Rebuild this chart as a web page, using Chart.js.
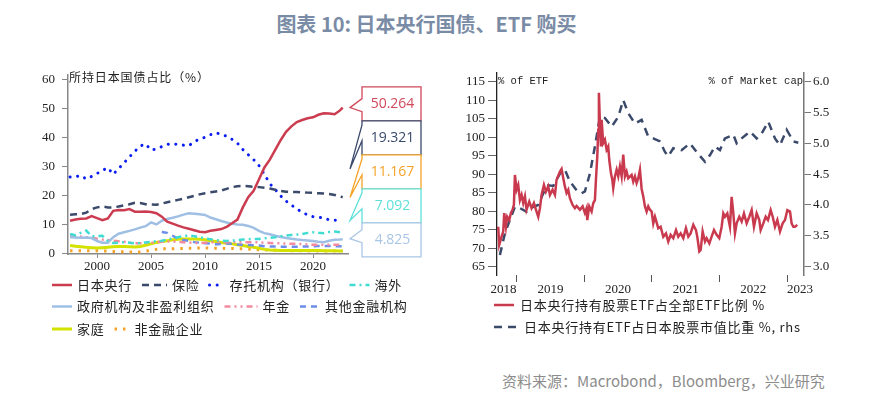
<!DOCTYPE html>
<html lang="zh">
<head>
<meta charset="UTF-8">
<title>图表 10: 日本央行国债、ETF 购买</title>
<script src="https://cdn.jsdelivr.net/npm/chart.js"></script>
<style>
  body { margin: 0; background: #fff; width: 880px; height: 397px; position: relative; overflow: hidden; font-family: "Noto Sans CJK SC", sans-serif; }
  .title { position: absolute; top: 14px; left: 0; width: 853px; text-align: center; font-size: 20px; line-height: 20px; font-weight: bold; color: #7a8ca5; }
  .source { position: absolute; left: 502px; top: 373px; font-size: 15px; line-height: 15px; color: #8c8c8c; }
  #leftChart { position: absolute; left: 0; top: 60px; }
  #rightChart { position: absolute; left: 440px; top: 60px; }
</style>
</head>
<body>
<div class="title">图表 10: 日本央行国债、ETF 购买</div>
<canvas id="leftChart" width="440" height="290"></canvas>
<canvas id="rightChart" width="440" height="290"></canvas>
<div class="source">资料来源：Macrobond，Bloomberg，兴业研究</div>

<script>
// ---- left chart: holders of JGBs, % share ----
const yearsLeft = [
  1997.5, 1998, 1998.5, 1999, 1999.5, 2000, 2000.5, 2001, 2001.5, 2002,
  2002.5, 2003, 2003.5, 2004, 2004.5, 2005, 2005.5, 2006, 2006.5, 2007,
  2007.5, 2008, 2008.5, 2009, 2009.5, 2010, 2010.5, 2011, 2011.5, 2012,
  2012.5, 2013, 2013.5, 2014, 2014.5, 2015, 2015.5, 2016, 2016.5, 2017,
  2017.5, 2018, 2018.5, 2019, 2019.5, 2020, 2020.5, 2021, 2021.5, 2022,
  2022.5, 2022.75
];
const boj = [
  11.2, 11.6, 11.9, 12.0, 12.8, 12.1, 11.4, 12.0, 14.6, 14.9,
  14.8, 15.2, 14.3, 14.3, 14.4, 14.2, 13.8, 12.6, 10.9, 10.2,
  9.5, 8.9, 8.4, 7.9, 7.4, 7.2, 7.7, 8.0, 8.3, 9.1,
  10.3, 11.6, 15.8, 19.3, 21.5, 25.5, 29.6, 32.3, 35.7, 39.0,
  41.9, 43.8, 45.3, 46.0, 46.6, 46.9, 47.8, 48.3, 48.2, 48.0,
  49.3, 50.264
];
const insurance = [
  13.3, 13.4, 13.5, 14.0, 15.2, 15.8, 16.1, 15.8, 15.8, 16.1,
  16.5, 16.9, 17.4, 17.3, 16.9, 16.8, 16.7, 17.1, 17.6, 18.0,
  18.4, 18.8, 19.3, 19.8, 20.3, 20.7, 21.0, 21.3, 21.6, 22.2,
  22.8, 23.1, 23.2, 23.1, 22.9, 22.8, 22.6, 22.3, 21.9, 21.5,
  21.2, 21.1, 21.1, 21.0, 20.9, 20.8, 20.7, 20.6, 20.4, 20.1,
  19.6, 19.321
];
const banks = [
  26.3, 26.4, 26.8, 25.6, 26.5, 27.5, 28.6, 29.5, 27.2, 29.2,
  31.2, 33.2, 35.2, 37.0, 37.7, 35.6, 36.0, 36.8, 37.6, 37.7,
  37.6, 37.3, 37.1, 38.5, 39.4, 40.0, 40.9, 41.6, 41.0, 40.4,
  39.3, 38.0, 35.8, 34.0, 32.3, 30.2, 27.2, 24.0, 22.0, 19.8,
  18.0, 16.6, 15.3, 14.1, 13.2, 12.6, 12.4, 12.1, 11.5, 11.4,
  11.3, 11.167
];
const overseas = [
  6.6, 6.2, 7.0, 7.8, 5.8, 5.9, 6.0, 4.2, 3.5, 3.6,
  3.8, 3.6, 3.4, 3.5, 3.7, 3.9, 4.1, 4.3, 4.7, 5.1,
  5.5, 5.9, 6.1, 5.8, 5.5, 5.1, 4.8, 4.5, 4.3, 4.2,
  4.3, 4.5, 4.7, 4.8, 4.9, 4.9, 5.1, 5.3, 5.5, 5.8,
  6.1, 6.3, 6.4, 6.6, 7.0, 7.2, 7.0, 6.9, 7.3, 7.5,
  7.2, 7.092
];
const govt = [
  5.5, 5.4, 5.3, 5.4, 5.2, 4.2, 3.6, 3.6, 5.5, 6.7,
  7.2, 7.7, 8.2, 8.8, 9.3, 10.6, 9.9, 11.2, 11.8, 12.2,
  12.7, 13.3, 13.8, 13.6, 13.4, 13.2, 12.3, 11.7, 11.1, 10.6,
  10.1, 9.9, 9.8, 9.4, 8.7, 7.7, 6.9, 6.5, 6.0, 5.6,
  5.2, 5.0, 4.7, 4.5, 4.4, 4.2, 3.9, 3.8, 4.3, 4.6,
  4.7, 4.825
];
const pension = [
  6.1, 5.9, 5.7, 5.5, 5.3, 5.0, 4.7, 4.5, 4.3, 4.1,
  3.9, 3.6, 3.4, 3.4, 3.5, 3.6, 3.8, 3.9, 4.0, 4.0,
  3.9, 3.8, 3.7, 3.5, 3.5, 3.6, 3.7, 3.8, 3.8, 3.8,
  3.8, 3.8, 3.8, 3.8, 3.8, 3.7, 3.6, 3.5, 3.4, 3.4,
  3.3, 3.2, 3.2, 3.1, 3.0, 2.9, 2.9, 2.9, 2.9, 2.9,
  2.9, 2.9
];
const otherFin = [
  null, null, null, null, null, null, null, null, null, null,
  null, null, null, null, null, null, null, 7.3, 7.0, 6.0,
  5.0, 4.5, 4.2, 3.8, 3.6, 3.4, 3.3, 3.1, 3.2, 3.3,
  3.2, 3.0, 2.9, 2.8, 2.7, 2.6, 2.4, 2.3, 2.3, 2.2,
  2.2, 2.2, 2.2, 2.3, 2.3, 2.4, 2.5, 2.5, 2.5, 2.4,
  2.4, 2.4
];
const households = [
  2.6, 2.4, 2.2, 2.0, 1.9, 1.8, 1.9, 2.0, 2.2, 2.3,
  2.3, 2.2, 2.1, 2.3, 2.7, 3.2, 3.7, 4.0, 4.3, 4.6,
  4.8, 4.9, 4.9, 4.9, 4.8, 4.6, 4.3, 4.0, 3.7, 3.4,
  3.2, 2.9, 2.6, 2.3, 2.0, 1.7, 1.3, 1.1, 1.0, 0.9,
  0.9, 0.9, 0.9, 0.9, 0.9, 0.9, 0.9, 0.8, 0.8, 0.8,
  0.7, 0.7
];
const corporates = [
  0.8, 0.8, 0.8, 0.8, 0.8, 0.8, 0.8, 0.7, 0.6, 0.5,
  0.5, 0.4, 0.4, 0.4, 0.7, 1.0, 1.3, 1.5, 1.5, 1.5,
  1.6, 1.6, 1.7, 1.7, 1.8, 1.8, 1.7, 1.7, 1.7, 1.6,
  1.6, 1.5, 1.5, 1.4, 1.3, 1.2, 1.1, 1.0, 1.0, 0.9,
  0.9, 0.8, 0.8, 0.8, 0.8, 0.7, 0.7, 0.7, 0.7, 0.7,
  0.7, 0.7
];
const leftXTicks = [2000, 2005, 2010, 2015, 2020];
const leftYTicks = [0, 10, 20, 30, 40, 50, 60];
const calloutValues = ['50.264', '19.321', '11.167', '7.092', '4.825'];
const calloutTips = [50.264, 29.1, 19.2, 11.3, 5.0];
const calloutColors = ['#d0485a', '#3b4a6b', '#f5a328', '#5ee0d8', '#a9c6e6'];

// ---- right chart: BoJ ETF holdings ----
const etfYears = [
  2018.728, 2018.743, 2018.778, 2018.802, 2018.817, 2018.842, 2018.861, 2018.891, 2018.916, 2018.940,
  2018.960, 2018.975, 2019.000, 2019.024, 2019.049, 2019.074, 2019.098, 2019.123, 2019.147, 2019.187,
  2019.221, 2019.256, 2019.295, 2019.320, 2019.345, 2019.369, 2019.404, 2019.433, 2019.468, 2019.493,
  2019.532, 2019.567, 2019.591, 2019.641, 2019.665, 2019.690, 2019.714, 2019.739, 2019.764, 2019.788,
  2019.828, 2019.862, 2019.887, 2019.936, 2019.976, 2020.010, 2020.035, 2020.045, 2020.074, 2020.109,
  2020.134, 2020.158, 2020.173, 2020.193, 2020.208, 2020.217, 2020.232, 2020.247, 2020.257, 2020.281,
  2020.306, 2020.331, 2020.355, 2020.370, 2020.395, 2020.415, 2020.429, 2020.454, 2020.479, 2020.503,
  2020.528, 2020.553, 2020.577, 2020.602, 2020.627, 2020.651, 2020.701, 2020.725, 2020.750, 2020.775,
  2020.799, 2020.824, 2020.849, 2020.873, 2020.898, 2020.923, 2020.947, 2020.972, 2020.997, 2021.021,
  2021.046, 2021.095, 2021.130, 2021.169, 2021.209, 2021.243, 2021.278, 2021.317, 2021.357, 2021.391,
  2021.426, 2021.465, 2021.504, 2021.539, 2021.573, 2021.613, 2021.652, 2021.672, 2021.702, 2021.722,
  2021.751, 2021.786, 2021.810, 2021.850, 2021.884, 2021.919, 2021.958, 2021.997, 2022.032, 2022.057,
  2022.081, 2022.116, 2022.155, 2022.180, 2022.205, 2022.229, 2022.254, 2022.293, 2022.328, 2022.362,
  2022.402, 2022.441, 2022.476, 2022.510, 2022.550, 2022.589, 2022.609, 2022.648, 2022.683, 2022.717,
  2022.757, 2022.787, 2022.821, 2022.856, 2022.895, 2022.934, 2022.969, 2023.004, 2023.043, 2023.067,
  2023.092, 2023.117, 2023.151
];
const etfShare = [
  75.8, 70.9, 73.1, 74.5, 79.5, 75.8, 78.5, 77.6, 79.5, 80.4,
  81.7, 89.8, 85.8, 87.1, 83.0, 84.4, 82.2, 84.0, 80.4, 82.6,
  80.8, 82.2, 79.9, 78.5, 80.8, 84.4, 87.1, 85.3, 86.7, 84.4,
  85.8, 84.4, 88.5, 90.7, 91.4, 88.9, 86.7, 84.9, 85.8, 83.5,
  81.7, 80.8, 81.4, 80.4, 81.3, 79.5, 80.8, 77.6, 81.3, 79.9,
  82.2, 83.0, 88.5, 94.8, 102.0, 112.0, 103.8, 97.5, 104.7, 98.4,
  99.3, 96.6, 97.5, 93.9, 90.3, 88.5, 86.2, 89.4, 91.2, 89.4,
  92.1, 89.4, 95.3, 89.4, 90.7, 88.9, 89.8, 88.0, 89.4, 87.6,
  88.9, 91.2, 86.0, 84.0, 81.3, 79.9, 81.3, 80.4, 79.9, 76.7,
  78.5, 75.4, 75.8, 73.1, 74.0, 71.8, 73.6, 72.7, 74.9, 73.1,
  74.0, 72.7, 75.4, 73.1, 74.0, 76.3, 74.9, 73.1, 69.1, 69.5,
  74.5, 71.8, 72.7, 71.3, 73.1, 74.9, 73.6, 72.7, 75.8, 79.4,
  78.5, 79.4, 75.8, 83.9, 79.4, 74.0, 76.7, 78.5, 77.2, 79.4,
  76.7, 78.5, 80.3, 75.8, 79.4, 77.6, 74.9, 76.7, 78.5, 77.6,
  80.3, 78.5, 75.8, 77.6, 74.5, 76.7, 77.6, 80.3, 79.9, 76.7,
  75.8, 75.8, 76.3
];
const capYears = [
  2018.753, 2018.827, 2018.901, 2018.975, 2019.049, 2019.147, 2019.246, 2019.320, 2019.394, 2019.468,
  2019.542, 2019.641, 2019.714, 2019.788, 2019.887, 2019.961, 2020.010, 2020.084, 2020.158, 2020.232,
  2020.306, 2020.405, 2020.503, 2020.577, 2020.651, 2020.750, 2020.849, 2020.947, 2021.021, 2021.120,
  2021.194, 2021.243, 2021.317, 2021.440, 2021.564, 2021.662, 2021.786, 2021.860, 2021.933, 2022.007,
  2022.081, 2022.205, 2022.254, 2022.328, 2022.451, 2022.550, 2022.624, 2022.722, 2022.821, 2022.895,
  2022.994, 2023.092, 2023.166
];
const capShare = [
  3.19, 3.54, 3.76, 3.97, 3.95, 3.89, 3.97, 4.00, 4.19, 4.32,
  4.31, 4.51, 4.57, 4.38, 4.24, 4.19, 4.22, 4.51, 4.95, 5.43,
  5.41, 5.27, 5.43, 5.70, 5.49, 5.32, 5.38, 5.11, 5.08, 5.03,
  4.86, 4.79, 4.92, 4.89, 5.00, 4.86, 4.70, 4.81, 4.95, 4.89,
  5.08, 5.14, 5.00, 5.08, 5.19, 5.08, 5.16, 5.35, 5.08, 4.97,
  5.22, 5.03, 5.01
];
const rightXTicks = [2019, 2020, 2021, 2022, 2023];
const rightYearLabels = [2018, 2019, 2020, 2021, 2022, 2023];
const rightYTicks = [65, 70, 75, 80, 85, 90, 95, 100, 105, 110, 115];
const rightY1Ticks = [3.0, 3.5, 4.0, 4.5, 5.0, 5.5, 6.0];

const tickFont = { family: 'Liberation Serif', size: 13 };
const legendFont = '13px "Noto Sans CJK SC"';

function pts(xs, ys) {
  return xs.map((x, i) => ({ x: x, y: ys[i] }));
}

function drawLegendRow(ctx, chart, items, x0, y) {
  let x = x0;
  items.forEach(([idx, len, gap]) => {
    const ds = chart.data.datasets[idx];
    ctx.save();
    ctx.strokeStyle = ds.borderColor;
    ctx.lineWidth = ds.borderWidth;
    ctx.lineCap = ds.borderCapStyle || 'butt';
    ctx.setLineDash(ds.borderDash || []);
    ctx.beginPath();
    ctx.moveTo(x, y);
    ctx.lineTo(x + len, y);
    ctx.stroke();
    ctx.restore();
    x += len + gap;
    ctx.fillText(ds.label, x, y);
    x += ctx.measureText(ds.label).width + 10;
  });
}

const leftExtras = {
  id: 'leftExtras',
  afterDraw(chart) {
    const { ctx, chartArea: a } = chart;
    const y = chart.scales.y;
    ctx.save();
    ctx.letterSpacing = '0.9px';
    ctx.font = '12px "Noto Sans CJK SC"';
    ctx.fillStyle = '#222';
    ctx.textBaseline = 'middle';
    ctx.fillText('所持日本国债占比（%）', a.left + 1, a.top + 3);

    // value callouts at the right edge
    ctx.letterSpacing = '0px';
    calloutValues.forEach((txt, i) => {
      const top = a.top + 12 + i * 34, bottom = top + 34, left = 362, right = 421;
      const tipX = a.right + 2, tipY = y.getPixelForValue(calloutTips[i]);
      let b1, b2;
      if (tipY > top + 4 && tipY < bottom - 4) { b1 = tipY - 9; b2 = tipY + 4; }
      else { b1 = top + 4; b2 = top + 20; }
      ctx.beginPath();
      ctx.moveTo(left, top); ctx.lineTo(right, top); ctx.lineTo(right, bottom); ctx.lineTo(left, bottom);
      ctx.lineTo(left, b2); ctx.lineTo(tipX, tipY); ctx.lineTo(left, b1); ctx.closePath();
      ctx.fillStyle = '#fff';
      ctx.fill();
      ctx.strokeStyle = calloutColors[i];
      ctx.lineWidth = 1.3;
      ctx.stroke();
      ctx.fillStyle = calloutColors[i];
      ctx.font = '14px "Open Sans"';
      ctx.textAlign = 'center';
      ctx.fillText(txt, (left + right) / 2 + 1, top + 17);
      ctx.textAlign = 'left';
    });

    // legend
    ctx.letterSpacing = '0.75px';
    ctx.font = legendFont;
    ctx.fillStyle = '#222';
    drawLegendRow(ctx, chart, [[0, 20, 5], [1, 25, 5], [2, 15, 5], [3, 20, 5]], 52, a.bottom + 31);
    drawLegendRow(ctx, chart, [[4, 20, 5], [5, 33, 5], [6, 20, 5]], 52, a.bottom + 52.5);
    drawLegendRow(ctx, chart, [[7, 20, 5], [8, 15, 5]], 52, a.bottom + 75);
    ctx.restore();
  }
};

new Chart(document.getElementById('leftChart'), {
  type: 'line',
  data: {
    datasets: [
      { label: '日本央行', data: pts(yearsLeft, boj), borderColor: '#cc3c50', borderWidth: 2.5 },
      { label: '保险', data: pts(yearsLeft, insurance), borderColor: '#3b4a6b', borderWidth: 2.5, borderDash: [7, 5] },
      { label: '存托机构（银行）', data: pts(yearsLeft, banks), borderColor: '#0a1ef0', borderWidth: 3, borderDash: [0.1, 7.5], borderCapStyle: 'round' },
      { label: '海外', data: pts(yearsLeft, overseas), borderColor: '#40dcd2', borderWidth: 2.5, borderDash: [6, 4, 2, 4] },
      { label: '政府机构及非盈利组织', data: pts(yearsLeft, govt), borderColor: '#9fc0e4', borderWidth: 2.5 },
      { label: '年金', data: pts(yearsLeft, pension), borderColor: '#f28aa0', borderWidth: 2.5, borderDash: [6, 4, 2, 4, 2, 4] },
      { label: '其他金融机构', data: pts(yearsLeft, otherFin), borderColor: '#6c8ee8', borderWidth: 2.5, borderDash: [6, 5] },
      { label: '家庭', data: pts(yearsLeft, households), borderColor: '#d4e200', borderWidth: 3 },
      { label: '非金融企业', data: pts(yearsLeft, corporates), borderColor: '#f5a328', borderWidth: 3, borderDash: [2.5, 6] }
    ]
  },
  options: {
    responsive: false,
    animation: false,
    layout: { padding: { left: 0, top: 13, right: 92, bottom: 0 } },
    elements: { point: { radius: 0 }, line: { tension: 0, fill: false } },
    plugins: { legend: { display: false }, tooltip: { enabled: false } },
    scales: {
      x: {
        type: 'linear', min: 1997.31, max: 2023.24,
        afterBuildTicks: s => { s.ticks = leftXTicks.map(v => ({ value: v })); },
        afterFit: s => { s.height = 96; },
        grid: { drawOnChartArea: false, drawTicks: true, tickLength: 4, tickColor: '#888' },
        border: { color: '#888', width: 1.5 },
        ticks: { font: tickFont, color: '#222', padding: 1, maxRotation: 0, autoSkip: false, callback: v => String(v) }
      },
      y: {
        min: -0.3, max: 61.6,
        afterBuildTicks: s => { s.ticks = leftYTicks.map(v => ({ value: v })); },
        afterFit: s => { s.width = 68; },
        grid: { drawOnChartArea: false, drawTicks: true, tickLength: 6, tickColor: '#888' },
        border: { color: '#888', width: 1.5 },
        ticks: { font: tickFont, color: '#222', padding: 7, callback: v => String(v) }
      }
    }
  },
  plugins: [leftExtras]
});

const rightExtras = {
  id: 'rightExtras',
  afterDraw(chart) {
    const { ctx, chartArea: a } = chart;
    const x = chart.scales.x;
    ctx.save();
    ctx.font = '10.5px "Liberation Mono"';
    ctx.fillStyle = '#222';
    ctx.textBaseline = 'middle';
    ctx.textAlign = 'left';
    ctx.fillText('% of ETF', a.left + 1, a.top + 8);
    ctx.textAlign = 'right';
    ctx.fillText('% of Market cap', a.right - 1, a.top + 8);

    // year labels centred in each year band
    ctx.font = '13px "Liberation Serif"';
    rightYearLabels.forEach(yr => {
      const s = Math.max(yr, x.min), e = Math.min(yr + 1, x.max);
      if (e <= s) return;
      let px, align;
      if (yr < x.min) { px = x.getPixelForValue(e); align = 'right'; }
      else if (yr + 1 > x.max) { px = x.getPixelForValue(s); align = 'left'; }
      else { px = x.getPixelForValue((s + e) / 2); align = 'center'; }
      ctx.textAlign = align;
      ctx.fillText(String(yr), px, a.bottom + 15);
    });

    ctx.textAlign = 'left';
    ctx.letterSpacing = '0.75px';
    ctx.font = legendFont;
    drawLegendRow(ctx, chart, [[0, 20, 6]], 54, a.bottom + 30);
    drawLegendRow(ctx, chart, [[1, 22, 8]], 54, a.bottom + 52);
    ctx.restore();
  }
};

new Chart(document.getElementById('rightChart'), {
  type: 'line',
  data: {
    datasets: [
      { label: '日本央行持有股票ETF占全部ETF比例 %', data: pts(etfYears, etfShare), borderColor: '#c93a4f', borderWidth: 2.5, yAxisID: 'y' },
      { label: '日本央行持有ETF占日本股票市值比重 %, rhs', data: pts(capYears, capShare), borderColor: '#3b4a6b', borderWidth: 2.5, borderDash: [8, 6], yAxisID: 'y1' }
    ]
  },
  options: {
    responsive: false,
    animation: false,
    layout: { padding: { left: 0, top: 13, right: 0, bottom: 0 } },
    elements: { point: { radius: 0 }, line: { tension: 0, fill: false } },
    plugins: { legend: { display: false }, tooltip: { enabled: false } },
    scales: {
      x: {
        type: 'linear', min: 2018.71, max: 2023.25,
        afterBuildTicks: s => { s.ticks = rightXTicks.map(v => ({ value: v })); },
        afterFit: s => { s.height = 75; },
        grid: { drawOnChartArea: false, drawTicks: true, tickLength: 7, tickColor: '#555' },
        border: { display: false },
        ticks: { callback: () => '', autoSkip: false, maxRotation: 0 }
      },
      y: {
        position: 'left', min: 62.75, max: 117.35,
        afterBuildTicks: s => { s.ticks = rightYTicks.map(v => ({ value: v })); },
        afterFit: s => { s.width = 57; },
        grid: { drawOnChartArea: false, drawTicks: true, tickLength: 9, tickColor: '#666' },
        border: { color: '#222', width: 1.3 },
        ticks: { font: tickFont, color: '#222', padding: 3, callback: v => String(v) }
      },
      y1: {
        position: 'right', min: 2.865, max: 6.14,
        afterBuildTicks: s => { s.ticks = rightY1Ticks.map(v => ({ value: v })); },
        afterFit: s => { s.width = 76; },
        grid: { drawOnChartArea: false, drawTicks: true, tickLength: 7, tickColor: '#777' },
        border: { color: '#777', width: 1.5 },
        ticks: { font: tickFont, color: '#222', padding: 2, callback: v => v.toFixed(1) }
      }
    }
  },
  plugins: [rightExtras]
});
</script>
</body>
</html>
